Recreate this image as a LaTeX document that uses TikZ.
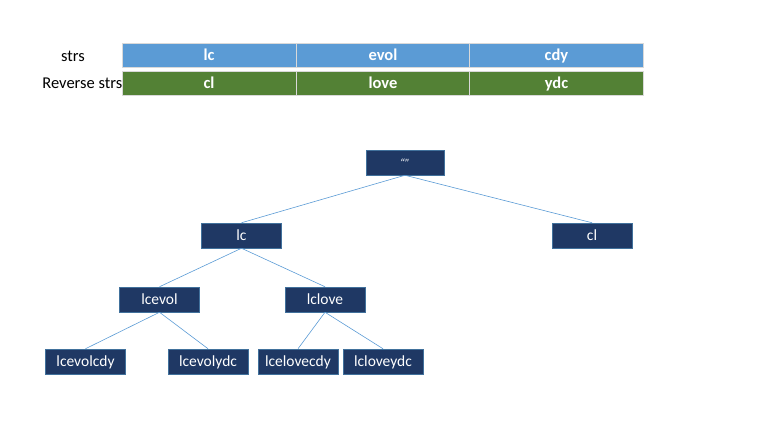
\documentclass[tikz,border=0pt]{standalone}
\usepackage{fontspec}
\setmainfont{Carlito}
\begin{document}
\definecolor{rowblue}{HTML}{5B9BD5}
\definecolor{rowgreen}{HTML}{538135}
\definecolor{navy}{HTML}{1F3864}
\definecolor{navyedge}{HTML}{41719C}
\definecolor{linkblue}{HTML}{5B9BD5}
\begin{tikzpicture}[x=1pt,y=-1pt,
  cell/.style={draw=white!85!black, line width=0.6pt, minimum width=174pt, minimum height=24pt,
    inner sep=0pt, text=white, text height=14pt, text depth=3pt, font=\fontsize{16.5}{18}\selectfont\bfseries},
  bluecell/.style={cell, fill=rowblue},
  greencell/.style={cell, fill=rowgreen},
  rowlabel/.style={inner sep=0pt, anchor=base, font=\fontsize{16.5}{18}\selectfont, text=black},
  treenode/.style={draw=navyedge, line width=0.5pt, fill=navy, text=white, minimum width=80pt,
    minimum height=25pt, inner sep=0pt, text height=12pt, text depth=3pt, font=\fontsize{15.5}{18}\selectfont},
  link/.style={draw=linkblue, line width=0.6pt}]
\useasboundingbox (0,0) rectangle (784,441);

% string table
\node[bluecell] (s1) at (209,55) {lc};
\node[bluecell] (s2) at (383,55) {evol};
\node[bluecell] (s3) at (556.5,55) {cdy};
\node[greencell] (r1) at (209,83) {cl};
\node[greencell] (r2) at (383,83) {love};
\node[greencell] (r3) at (556.5,83) {ydc};
\node[rowlabel] (lab1) at (73,62) {strs};
\node[rowlabel, anchor=base east] (lab2) at (122.5,89) {Reverse strs};

% tree
\node[treenode, minimum width=78pt] (root) at (405,162.5) {\fontsize{12}{14}\selectfont\itshape “”};
\node[treenode] (lc) at (241.5,235.5) {lc};
\node[treenode] (cl) at (592,235.5) {cl};
\node[treenode] (lcevol) at (159.5,299.5) {lcevol};
\node[treenode] (lclove) at (325,299.5) {lclove};
\node[treenode] (lcevolcdy) at (85.5,361.5) {lcevolcdy};
\node[treenode] (lcevolydc) at (208,361.5) {lcevolydc};
\node[treenode] (lcelovecdy) at (298,361.5) {lcelovecdy};
\node[treenode] (lcloveydc) at (383,361.5) {lcloveydc};

\draw[link] (root.south) -- (lc.north);
\draw[link] (root.south) -- (cl.north);
\draw[link] (lc.south) -- (lcevol.north);
\draw[link] (lc.south) -- (lclove.north);
\draw[link] (lcevol.south) -- (lcevolcdy.north);
\draw[link] (lcevol.south) -- (lcevolydc.north);
\draw[link] (lclove.south) -- (lcelovecdy.north);
\draw[link] (lclove.south) -- (lcloveydc.north);
\end{tikzpicture}
\end{document}
